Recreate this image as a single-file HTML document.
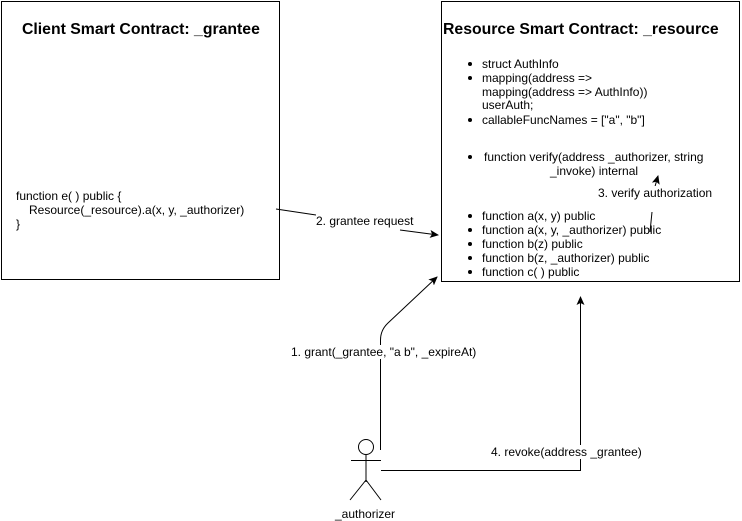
<!DOCTYPE html>
<html><head><style>
body{margin:0;width:742px;height:521px;background:#fff;position:relative;overflow:hidden;font-family:"Liberation Sans",Arial,sans-serif;font-size:12px;color:#000}
.t{position:absolute;white-space:nowrap;line-height:14px}
.b{font-weight:bold;font-size:15.8px}
.d{position:absolute;width:4px;height:4px;border-radius:50%;background:#000}
</style></head><body>
<svg width="742" height="521" style="position:absolute;left:0;top:0">
<defs><marker id="a" markerWidth="10" markerHeight="10" refX="8" refY="4" orient="auto" markerUnits="userSpaceOnUse"><path d="M0,0 L9,4 L0,8 L2,4 z" fill="#000"/></marker></defs>
<g fill="none" stroke="#000">
<rect x="1.5" y="1.5" width="278" height="278"/>
<rect x="441.5" y="1.5" width="298" height="280"/>
<path d="M276,209 L316,215"/>
<path d="M400,230 L438,235" marker-end="url(#a)"/>
<path d="M650,232 L652,212"/>
<path d="M654,190 L658,176" marker-end="url(#a)"/>
<path d="M380.5,450 L380.5,340 Q380.5,330 388,323 L437,277" marker-end="url(#a)"/>
<path d="M381,470.5 L580.5,470.5 L580.5,297" marker-end="url(#a)"/>
<circle cx="366" cy="447" r="7.5"/>
<path d="M366,455 L366,482 M351,460.5 L381,460.5 M366,480 L350,500 M366,480 L381,500"/>
</g>
</svg>
<div class="t b" style="left:22px;top:23px">Client Smart Contract: _grantee</div>
<div class="t b" style="left:443px;top:23px">Resource Smart Contract: _resource</div>
<div class="t" style="left:16px;top:189px">function e( ) public {</div>
<div class="t" style="left:29px;top:203px">Resource(_resource).a(x, y, _authorizer)</div>
<div class="t" style="left:16px;top:217px">}</div>
<div class="t" style="left:316px;top:214px;background:#fff">2. grantee request</div>
<div class="t" style="left:598px;top:186px;background:#fff">3. verify authorization</div>
<div class="t" style="left:291px;top:345px;background:#fff">1. grant(_grantee, "a b", _expireAt)</div>
<div class="t" style="left:491px;top:445px;background:#fff">4. revoke(address _grantee)</div>
<div class="t" style="left:335px;top:507px">_authorizer</div>
<div class="d" style="left:468px;top:62px"></div>
<div class="d" style="left:468px;top:76px"></div>
<div class="d" style="left:468px;top:118px"></div>
<div class="d" style="left:468px;top:155px"></div>
<div class="d" style="left:468px;top:214px"></div>
<div class="d" style="left:468px;top:228px"></div>
<div class="d" style="left:468px;top:242px"></div>
<div class="d" style="left:468px;top:256px"></div>
<div class="d" style="left:468px;top:270px"></div>
<div class="t" style="left:482px;top:57px">struct AuthInfo</div>
<div class="t" style="left:482px;top:71px">mapping(address =&gt;</div>
<div class="t" style="left:482px;top:85px">mapping(address =&gt; AuthInfo))</div>
<div class="t" style="left:482px;top:98px">userAuth;</div>
<div class="t" style="left:482px;top:113px">callableFuncNames = ["a", "b"]</div>
<div class="t" style="left:484px;top:150px">function verify(address _authorizer, string</div>
<div class="t" style="left:550px;top:164px">_invoke) internal</div>
<div class="t" style="left:482px;top:209px">function a(x, y) public</div>
<div class="t" style="left:482px;top:223px">function a(x, y, _authorizer) public</div>
<div class="t" style="left:482px;top:237px">function b(z) public</div>
<div class="t" style="left:482px;top:251px">function b(z, _authorizer) public</div>
<div class="t" style="left:482px;top:265px">function c( ) public</div>
</body></html>
